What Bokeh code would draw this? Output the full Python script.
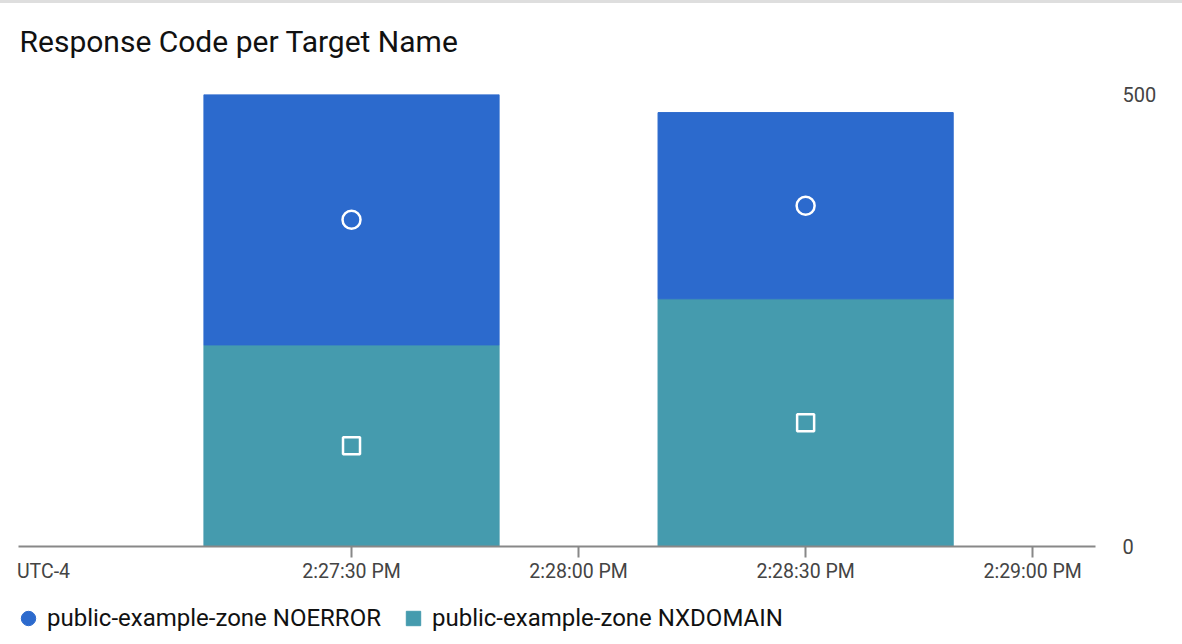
import pandas as pd
from bokeh.plotting import figure
from bokeh.layouts import column
from bokeh.models import (ColumnDataSource, FixedTicker, Legend, LegendItem,
                          Range1d, LinearAxis, Label)
from bokeh.embed import file_html
from bokeh.resources import INLINE

# ---- data ----
bar_times = ["2024-01-01 14:27:30", "2024-01-01 14:28:30"]
noerror = [277, 206]
nxdomain = [223, 274]
series_names = ["public-example-zone NOERROR", "public-example-zone NXDOMAIN"]
tick_times = ["2024-01-01 14:27:30", "2024-01-01 14:28:00",
              "2024-01-01 14:28:30", "2024-01-01 14:29:00"]
tick_labels = ["2:27:30 PM", "2:28:00 PM", "2:28:30 PM", "2:29:00 PM"]
y_ticks = [0, 500]
timezone_label = "UTC-4"
title_text = "Response Code per Target Name"

BLUE = "#2c6acd"
TEAL = "#459bae"
FONT = "Roboto"
W = 1182


def to_ms(ts):
    return [int(pd.Timestamp(t).value // 10**6) for t in ts]


def strip(height):
    fig = figure(width=W, height=height, output_backend="svg",
                 toolbar_location=None, x_axis_location=None,
                 y_axis_location=None,
                 x_range=Range1d(0, 1), y_range=Range1d(0, 1),
                 min_border_left=0, min_border_right=0,
                 min_border_top=0, min_border_bottom=0)
    fig.grid.visible = False
    fig.outline_line_color = None
    return fig


bx = to_ms(bar_times)
tx = to_ms(tick_times)

src = ColumnDataSource(dict(
    x=bx,
    noerror=noerror,
    nxdomain=nxdomain,
    mid_noerror=[a + b / 2 for a, b in zip(nxdomain, noerror)],
    mid_nxdomain=[a / 2 for a in nxdomain],
))

x_start = tx[0] - 44000
x_end = x_start + 142300
x_utc = x_start + 3300  # where the timezone note sits (left edge of axis)

# ---- title strip ----
tf = strip(79)
tf.styles = {"border-top": "3px solid #dedede"}
tf.add_layout(Label(x=1, y=41, x_units="screen", y_units="screen",
                    text=title_text, text_font=FONT, text_font_size="30px",
                    text_color="#111111", text_baseline="middle"))

# ---- main chart ----
p = figure(width=W, height=514, output_backend="svg", toolbar_location=None,
           x_range=Range1d(x_start, x_end), y_range=Range1d(0, 500),
           y_axis_location="right",
           min_border_left=18, min_border_right=87, min_border_top=15,
           min_border_bottom=47)
p.outline_line_color = None
p.background_fill_color = "white"
p.border_fill_color = "white"

bars = p.vbar_stack(["nxdomain", "noerror"], x="x", width=39000,
                    color=[TEAL, BLUE], source=src)

p.scatter("x", "mid_noerror", source=src, marker="circle", size=18,
          fill_color=None, line_color="white", line_width=2.5)
p.scatter("x", "mid_nxdomain", source=src, marker="square", size=17,
          fill_color=None, line_color="white", line_width=2.5)

# axis 1: baseline + tick marks
xa = p.xaxis[0]
xa.ticker = FixedTicker(ticks=tx)
xa.major_label_overrides = {t: "" for t in tx}
xa.axis_line_color = "#888888"
xa.axis_line_width = 2
xa.major_tick_line_color = "#888888"
xa.major_tick_line_width = 2
xa.major_tick_in = 0
xa.major_tick_out = 11
xa.minor_tick_line_color = None
xa.major_label_text_font_size = "1px"
xa.major_label_standoff = 0

# axis 2: tick labels including the timezone note
xa2 = LinearAxis(ticker=FixedTicker(ticks=[x_utc] + tx))
xa2.major_label_overrides = {t: l for t, l in zip([x_utc] + tx,
                                                  [timezone_label] + tick_labels)}
xa2.axis_line_color = None
xa2.major_tick_line_color = None
xa2.minor_tick_line_color = None
xa2.major_tick_in = 0
xa2.major_tick_out = 0
xa2.major_label_text_font = FONT
xa2.major_label_text_font_size = "19.5px"
xa2.major_label_text_color = "#444444"
xa2.major_label_standoff = 2
p.add_layout(xa2, "below")

ya = p.yaxis[0]
ya.ticker = FixedTicker(ticks=y_ticks)
ya.axis_line_color = None
ya.major_tick_line_color = None
ya.minor_tick_line_color = None
ya.major_label_text_font = FONT
ya.major_label_text_font_size = "20px"
ya.major_label_text_color = "#444444"
ya.major_label_standoff = 21

p.xgrid.grid_line_color = None
p.ygrid.ticker = FixedTicker(ticks=[500])
p.ygrid.grid_line_color = "#e8e8e8"
p.ygrid.grid_line_width = 2

# ---- legend strip ----
lg = strip(51)
r1 = lg.scatter(x=[-5], y=[-5], marker="circle", color=BLUE)
r2 = lg.scatter(x=[-5], y=[-5], marker="square", color=TEAL)
legend = Legend(items=[LegendItem(label=series_names[0], renderers=[r1]),
                       LegendItem(label=series_names[1], renderers=[r2])],
                orientation="horizontal", location=(-8, 8),
                glyph_width=36, glyph_height=36, label_standoff=1,
                spacing=14, padding=0, margin=0,
                border_line_color=None, background_fill_alpha=0,
                label_text_font=FONT, label_text_font_size="24px",
                label_text_color="#111111")
lg.add_layout(legend, "center")

layout = column(tf, p, lg, spacing=0)
open("out.html", "w").write(file_html(layout, INLINE))
